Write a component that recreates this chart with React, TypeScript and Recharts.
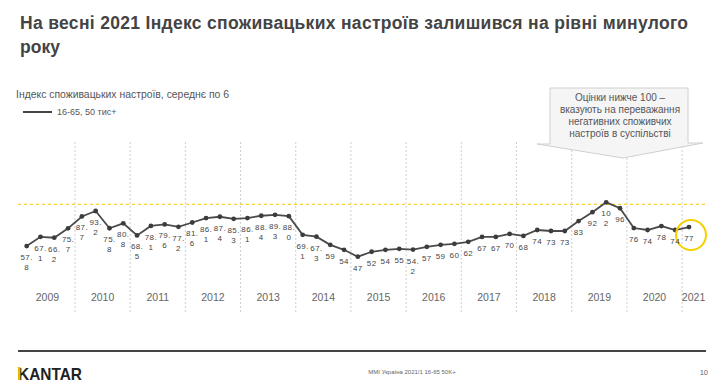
import { LineChart, Line, XAxis, YAxis, ReferenceLine, LabelList } from 'recharts';

const years = ['2009', '2010', '2011', '2012', '2013', '2014', '2015', '2016', '2017', '2018', '2019', '2020', '2021'];
const wavesPerYear = [4, 4, 4, 4, 4, 4, 4, 4, 4, 4, 4, 4, 1];
// index values as printed under each point
const readings = [
  '57.8', '67.1', '66.2', '75.7',
  '87.7', '93.2', '75.8', '80.8',
  '68.5', '78.1', '79.6', '77.2',
  '81.6', '86.1', '87.4', '85.3',
  '86.1', '88.4', '89.3', '88.0',
  '69.1', '67.3', '59', '54',
  '47', '52', '54', '55',
  '54.2', '57', '59', '60',
  '62', '67', '67', '70',
  '68', '74', '73', '73',
  '83', '92', '102', '96',
  '76', '74', '78', '74',
  '77',
];
const values = readings.map(Number);
const neutralLevel = 100;

const data = values.map((v, i) => ({ i, value: v, label: readings[i] }));

const X_MIN = -0.63;
const X_MAX = 49.16;

const yearStarts: number[] = [];
let acc = 0;
wavesPerYear.forEach((n) => {
  yearStarts.push(acc);
  acc += n;
});
const yearCenters = yearStarts.map((s, k) =>
  k === years.length - 1 ? (s - 0.5 + X_MAX) / 2 : s + (wavesPerYear[k] - 1) / 2
);
const separators = yearStarts.slice(1).map((s) => s - 0.5);

const FONT = '"Liberation Sans", Arial, sans-serif';

function YearTick(props: any) {
  const { x, y, payload } = props;
  const k = yearCenters.indexOf(payload.value);
  return (
    <text x={x} y={y - 11} textAnchor="middle" fontSize={10.5} fill="#666" fontFamily={FONT}>
      {years[k]}
    </text>
  );
}

function PointLabel(props: any) {
  const { x, y, value } = props;
  const s = String(value);
  const cut = s.includes('.') ? s.indexOf('.') + 1 : 2;
  const lines = s.length > 2 ? [s.slice(0, cut), s.slice(cut)] : [s];
  return (
    <text x={x} y={y + 14} textAnchor="middle" fontSize={8} fill="#444" fontFamily={FONT} letterSpacing={0.4}>
      {lines.map((l, k) => (
        <tspan key={k} x={x} dy={k === 0 ? 0 : 10}>
          {l}
        </tspan>
      ))}
    </text>
  );
}

function WaveDot(props: any) {
  const { cx, cy, index } = props;
  return (
    <g key={index}>
      <circle cx={cx} cy={cy} r={2.4} fill="#3c3c3c" />
      {index === values.length - 1 && (
        <circle cx={cx + 2} cy={cy + 8} r={15} fill="none" stroke="#f5d000" strokeWidth={2} />
      )}
    </g>
  );
}

export default function App() {
  return (
    <div style={{ position: 'absolute', left: 0, top: 0, width: 720, height: 391, background: '#fff', fontFamily: FONT }}>
      <LineChart width={720} height={391} data={data} margin={{ top: 140, right: 15, bottom: 49, left: 18 }}>
        <XAxis
          dataKey="i"
          type="number"
          domain={[X_MIN, X_MAX]}
          ticks={yearCenters}
          interval={0}
          axisLine={false}
          tickLine={false}
          tickSize={0}
          tickMargin={0}
          height={30}
          tick={<YearTick />}
        />
        <YAxis hide domain={[-8.9, 165]} />
        {separators.map((s) => (
          <ReferenceLine key={s} x={s} stroke="#cfcfcf" strokeDasharray="2 2" />
        ))}
        <ReferenceLine y={neutralLevel} stroke="#f2c200" strokeDasharray="3 3" />
        <Line
          dataKey="value"
          stroke="#4a4a4a"
          strokeWidth={1.8}
          dot={<WaveDot />}
          activeDot={false}
          isAnimationActive={false}
        >
          <LabelList dataKey="label" content={<PointLabel />} />
        </Line>
      </LineChart>

      <svg width={720} height={391} style={{ position: 'absolute', left: 0, top: 0, pointerEvents: 'none' }} fontFamily={FONT}>
        <text x={20} y={29} fontSize={17.5} fontWeight="bold" fill="#444" textLength={668} lengthAdjust="spacing">
          На весні 2021 Індекс споживацьких настроїв залишився на рівні минулого
        </text>
        <text x={20} y={53} fontSize={17.5} fontWeight="bold" fill="#444">
          року
        </text>

        <text x={16} y={98} fontSize={10.4} fill="#555">
          Індекс споживацьких настроїв, середнє по 6
        </text>
        <line x1={23} x2={52} y1={112} y2={112} stroke="#444" strokeWidth={2} />
        <text x={57} y={115} fontSize={9} fill="#555">
          16-65, 50 тис+
        </text>

        <path
          d="M550,88 L688,88 L688,143 L703,143 L623,158 L537,144 L550,144 Z"
          fill="#f5f5f5"
          stroke="#d0d0d0"
          strokeWidth={1}
        />
        <g fontSize={10} fill="#555" textAnchor="middle">
          <text x={620} y={101}>Оцінки нижче 100 –</text>
          <text x={620} y={113}>вказують на переважання</text>
          <text x={620} y={125}>негативних споживчих</text>
          <text x={620} y={137}>настроїв в суспільстві</text>
        </g>

        <line x1={18} x2={706} y1={351} y2={351} stroke="#444" strokeWidth={2} />
        <text x={18} y={380} fontSize={17} fontWeight="bold" fill="#222" textLength={64} lengthAdjust="spacingAndGlyphs">
          KANTAR
        </text>
        <rect x={18} y={367} width={2.4} height={13} fill="#e8b800" />
        <text x={412} y={374} fontSize={6} fill="#666" textAnchor="middle">
          MMI Україна 2021/1 16-65 50K+
        </text>
        <text x={708} y={375} fontSize={7.5} fill="#666" textAnchor="end">
          10
        </text>
      </svg>
    </div>
  );
}
